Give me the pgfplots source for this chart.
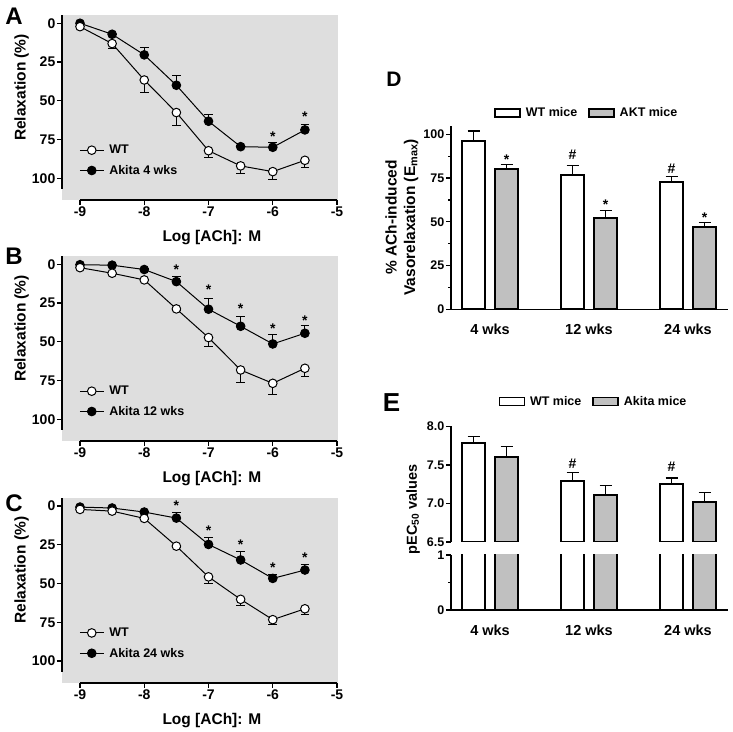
\documentclass[border=0pt]{standalone}
\usepackage{pgfplots}
\pgfplotsset{compat=1.18}
\usepackage{fontspec}
\setmainfont{Liberation Sans}
\definecolor{bg}{HTML}{DEDEDE}
\definecolor{barg}{HTML}{C0C0C0}
\newcommand\ticklabfont{\bfseries\fontsize{14bp}{16bp}\selectfont}
\newcommand\labfont{\bfseries\fontsize{15.5bp}{18bp}\selectfont}
\newcommand\legfont{\bfseries\fontsize{12.5bp}{15bp}\selectfont}
\newcommand\starfont{\bfseries\fontsize{14bp}{16bp}\selectfont}
\newcommand\dtickfont{\bfseries\fontsize{12.5bp}{15bp}\selectfont}
\newcommand\catfont{\bfseries\fontsize{14.5bp}{17bp}\selectfont}
\newcommand\dlabfont{\bfseries\fontsize{15.5bp}{18.5bp}\selectfont}
\newcommand\elabfont{\bfseries\fontsize{14.5bp}{18bp}\selectfont}
\pgfplotsset{
  curve/.style={
    scale only axis, width=276bp, height=184.5bp,
    anchor=south west, clip=false,
    xmin=-9.28, xmax=-4.985, ymin=-5, ymax=114, y dir=reverse,
    axis background/.style={fill=bg, draw=none},
    axis x line*=bottom, axis y line*=left,
    axis line style={draw=none},
    xtick={-9,-8,-7,-6,-5}, xticklabels={-9,-8,-7,-6,-5},
    ytick={0,25,50,75,100},
    tick align=outside, major tick length=5bp,
    tick style={black, line width=1.3bp},
    ticklabel style={font=\ticklabfont},
    /pgf/number format/assume math mode=true,
    yticklabel style={inner xsep=1.5bp},
    xticklabel style={inner ysep=2bp},
    xlabel={Log [ACh]: M}, ylabel={Relaxation (\%)},
    every axis x label/.style={at={(axis description cs:0.543,-0.206)}, anchor=center, font=\labfont},
    every axis y label/.style={at={(axis description cs:-0.1467,0.61)}, anchor=center, rotate=90, font=\labfont},
    legend style={draw=none, fill=none, at={(0.051,0.32)}, anchor=north west, font=\legfont, row sep=6bp,
      /tikz/every odd column/.append style={column sep=3bp}},
    legend cell align=left,
    legend image code/.code={\draw[mark repeat=2,mark phase=2,##1] plot coordinates {(0bp,0bp)(12bp,0bp)(24bp,0bp)};},
  },
  akleg/.style={black, line width=1bp, mark=*, mark size=4.3bp, mark options={fill=black, solid}},
  wtleg/.style={black, line width=1bp, mark=*, mark size=4.3bp, mark options={fill=white, solid}},
  akita/.style={forget plot, black, line width=1bp, mark=*, mark size=4.3bp, mark options={fill=black, solid},
    error bars/.cd, y dir=minus, y explicit, error bar style={line width=1bp, black},
    error mark options={rotate=90, mark size=4.3bp, line width=1bp, black}},
  wt/.style={forget plot, black, line width=1bp, mark=*, mark size=4.3bp, mark options={fill=white, solid},
    error bars/.cd, y dir=plus, y explicit, error bar style={line width=1bp, black},
    error mark options={rotate=90, mark size=4.3bp, line width=1bp, black}},
  star/.style={forget plot, draw=none, mark=none, nodes near coords={#1},
    every node near coord/.append style={font=\starfont, anchor=center, inner sep=0pt, black}},
  star/.default={*},
  barax/.style={
    scale only axis, width=277bp, anchor=south west,
    xmin=-0.394, xmax=2.404,
    axis line style={line width=1.5bp, black, -},
    tick align=outside, major tick length=5bp, minor tick length=3bp,
    tick style={black, line width=1.3bp},
    yticklabel style={font=\dtickfont, inner xsep=1.5bp},
    /pgf/number format/assume math mode=true,
    xtick={0,1,2}, xticklabels={4 wks,12 wks,24 wks},
    major x tick style={draw=none},
    xticklabel style={font=\catfont, yshift=-6bp},
    legend style={draw=none, fill=none, font=\legfont, legend columns=2,
      /tikz/every odd column/.append style={column sep=3bp},
      /tikz/every even column/.append style={column sep=9bp}},
  },
  barleg/.style={legend image code/.code={\draw[##1, line width=1.5bp] (0bp,-4bp) rectangle (25bp,4bp);}},
  wtbar/.style={ybar, bar width=22.5bp, bar shift=-16.5bp, fill=white, draw=black, line width=1.8bp, barleg},
  akbar/.style={ybar, bar width=22.5bp, bar shift=16.5bp, fill=barg, draw=black, line width=1.8bp, barleg},
  ebar/.style={forget plot, draw=none, mark=none, error bars/.cd, y dir=plus, y explicit, error bar style={line width=1.3bp, black},
    error mark options={rotate=90, mark size=6bp, line width=1.3bp, black}},
}
\begin{document}
\begin{tikzpicture}
\path[use as bounding box] (0bp,0bp) rectangle (733bp,732bp);
% ---------- Panel A ----------
\begin{axis}[curve, at={(62bp,532bp)}]
\draw[line width=1.5bp] (axis cs:-9.28,-5) -- (axis cs:-9.28,107);
\draw[line width=1.5bp] (axis cs:-9,114) -- (axis cs:-5,114);
\addlegendimage{wtleg}\addlegendentry{WT}
\addlegendimage{akleg}\addlegendentry{Akita 4 wks}
\addplot[akita] coordinates {
 (-9,0) +- (0,0) (-8.5,7.1) +- (0,0.5) (-8,20.4) +- (0,4.7) (-7.5,40) +- (0,6)
 (-7,63.2) +- (0,4.1) (-6.5,79.6) +- (0,1) (-6,80) +- (0,3.4) (-5.5,68.8) +- (0,3.8)};
\addplot[wt] coordinates {
 (-9,2.2) +- (0,0) (-8.5,13.1) +- (0,3.5) (-8,36.6) +- (0,7.9) (-7.5,57.6) +- (0,8.6)
 (-7,82.2) +- (0,4.7) (-6.5,92) +- (0,4.8) (-6,95.7) +- (0,5.3) (-5.5,88.4) +- (0,4.5)};
\addplot[star] coordinates {(-6,73) (-5.5,60)};
\end{axis}
% ---------- Panel B ----------
\begin{axis}[curve, at={(62bp,291bp)}]
\draw[line width=1.5bp] (axis cs:-9.28,-5) -- (axis cs:-9.28,107);
\draw[line width=1.5bp] (axis cs:-9,114) -- (axis cs:-5,114);
\addlegendimage{wtleg}\addlegendentry{WT}
\addlegendimage{akleg}\addlegendentry{Akita 12 wks}
\addplot[akita] coordinates {
 (-9,0.3) +- (0,0) (-8.5,0.6) +- (0,0.5) (-8,3.4) +- (0,0.5) (-7.5,11.2) +- (0,3)
 (-7,29) +- (0,6.6) (-6.5,40) +- (0,6.2) (-6,51.4) +- (0,6.2) (-5.5,44.5) +- (0,4.7)};
\addplot[wt] coordinates {
 (-9,2.2) +- (0,0) (-8.5,5.8) +- (0,0.5) (-8,10.1) +- (0,0.5) (-7.5,28.8) +- (0,1)
 (-7,47.3) +- (0,5.8) (-6.5,68.2) +- (0,7.9) (-6,76.8) +- (0,6.9) (-5.5,67.1) +- (0,5.6)};
\addplot[star] coordinates {(-7.5,3.5) (-7,16.4) (-6.5,28.9) (-6,41.4) (-5.5,36.6)};
\end{axis}
% ---------- Panel C ----------
\begin{axis}[curve, at={(62bp,49.25bp)}]
\draw[line width=1.5bp] (axis cs:-9.28,-5) -- (axis cs:-9.28,107);
\draw[line width=1.5bp] (axis cs:-9,114) -- (axis cs:-5,114);
\addlegendimage{wtleg}\addlegendentry{WT}
\addlegendimage{akleg}\addlegendentry{Akita 24 wks}
\addplot[akita] coordinates {
 (-9,0.7) +- (0,0) (-8.5,1.3) +- (0,0.5) (-8,3.9) +- (0,0.5) (-7.5,7.8) +- (0,3.7)
 (-7,24.8) +- (0,4.8) (-6.5,34.8) +- (0,5.7) (-6,46.7) +- (0,2.8) (-5.5,41.3) +- (0,3.3)};
\addplot[wt] coordinates {
 (-9,2.2) +- (0,0) (-8.5,3.3) +- (0,0.5) (-8,8) +- (0,0.5) (-7.5,25.9) +- (0,1)
 (-7,45.7) +- (0,4.1) (-6.5,60.2) +- (0,3.9) (-6,73.3) +- (0,3.2) (-5.5,66.3) +- (0,3.9)};
\addplot[star] coordinates {(-7.5,0) (-7,15.7) (-6.5,24.8) (-6,39.6) (-5.5,33.3)};
\end{axis}
% ---------- Panel D ----------
\begin{axis}[barax, at={(451bp,422.7bp)}, height=183.75bp, ymin=0, ymax=105, clip=false,
  axis x line*=bottom, axis y line*=left,
  ytick={0,25,50,75,100}, minor ytick={12.5,37.5,62.5,87.5},
  ylabel={\% ACh-induced\\Vasorelaxation (E\textsubscript{max})},
  every axis y label/.style={at={(axis description cs:-0.177,0.5)}, anchor=center, rotate=90, align=center, font=\dlabfont},
  legend style={at={(0.145,1.068)}, anchor=west}]
\addplot[wtbar] coordinates {(0,96.2) (1,76.7) (2,72.9)};
\addlegendentry{WT mice}
\addplot[akbar] coordinates {(0,80) (1,52) (2,47.2)};
\addlegendentry{AKT mice}
\addplot[ebar] coordinates {(-0.1667,96.2) +- (0,5.7) (0.8333,76.7) +- (0,5.3) (1.8333,72.9) +- (0,2.9)};
\addplot[ebar] coordinates {(0.1667,80) +- (0,2.9) (1.1667,52) +- (0,4.4) (2.1667,47.2) +- (0,2.5)};
\addplot[star] coordinates {(0.167,85.7) (1.167,59.8) (2.167,52.2)};
\addplot[star={\#}] coordinates {(0.833,88.2) (1.833,80.6)};
\end{axis}
% ---------- Panel E (upper) ----------
\begin{axis}[barax, at={(451bp,190bp)}, height=115.7bp, ymin=6.5, ymax=8.0,
  axis x line=none, axis y line*=left,
  ytick={6.5,7,7.5,8}, yticklabels={6.5,7.0,7.5,8.0},
  ylabel={pEC\textsubscript{50} values},
  every axis y label/.style={at={(axis description cs:-0.137,0.285)}, anchor=center, rotate=90, font=\elabfont},
  legend style={at={(0.16,1.213)}, anchor=west}]
\addplot[wtbar] coordinates {(0,7.78) (1,7.29) (2,7.25)};
\addlegendentry{WT mice}
\addplot[akbar] coordinates {(0,7.606) (1,7.11) (2,7.015)};
\addlegendentry{Akita mice}
\addplot[ebar] coordinates {(-0.1667,7.78) +- (0,0.085) (0.8333,7.29) +- (0,0.11) (1.8333,7.25) +- (0,0.08)};
\addplot[ebar] coordinates {(0.1667,7.606) +- (0,0.13) (1.1667,7.11) +- (0,0.12) (2.1667,7.015) +- (0,0.125)};
\addplot[star={\#}] coordinates {(0.833,7.52) (1.833,7.477)};
\end{axis}
% ---------- Panel E (lower) ----------
\begin{axis}[barax, at={(451bp,122bp)}, height=55bp, ymin=0, ymax=1,
  axis x line*=bottom, axis y line*=left,
  ytick={0,1}, minor ytick={0.5}]
\addplot[wtbar] coordinates {(0,7.78) (1,7.29) (2,7.25)};
\addplot[akbar] coordinates {(0,7.606) (1,7.11) (2,7.015)};
\end{axis}
% ---------- Panel letters ----------
\node[font=\bfseries\fontsize{24bp}{28bp}\selectfont] at (14bp,715.3bp) {A};
\node[font=\bfseries\fontsize{24bp}{28bp}\selectfont] at (14bp,476.2bp) {B};
\node[font=\bfseries\fontsize{24bp}{28bp}\selectfont] at (14bp,228.7bp) {C};
\node[font=\bfseries\fontsize{21bp}{25bp}\selectfont] at (394bp,652.5bp) {D};
\node[font=\bfseries\fontsize{26bp}{30bp}\selectfont] at (391.5bp,329bp) {E};
\end{tikzpicture}
\end{document}
